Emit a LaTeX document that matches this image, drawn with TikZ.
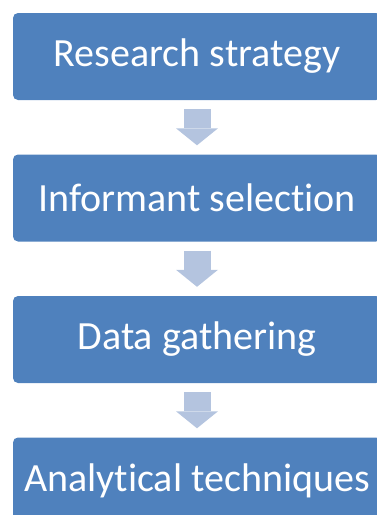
\documentclass[tikz,border=0pt]{standalone}
\usepackage{fontspec}
\setmainfont{Carlito}[Ligatures=NoCommon]
\usetikzlibrary{arrows.meta}
\definecolor{boxblue}{RGB}{79,129,189}
\definecolor{arrowblue}{RGB}{180,196,223}
\begin{document}
\begin{tikzpicture}[x=1pt,y=1pt,
  stage/.style={fill=boxblue,rounded corners=5pt,minimum width=368pt,minimum height=87pt,
    text=white,inner sep=0pt,font=\fontsize{40}{48}\selectfont},
  flow/.style={arrowblue,line width=27pt,shorten <=9pt,shorten >=9pt,
    -{Triangle[width=42pt,length=17pt,line width=0pt]}}]
\useasboundingbox (0,0) rectangle (377,-515);

\node (rs) at (197,-56.5)  [stage]{Research strategy};
\node (is) at (197,-198)   [stage]{Informant selection};
\node (dg) at (197,-339.5) [stage]{Data gathering};
\node (at) at (197,-481)   [stage]{Analytical techniques};

\draw[flow] (rs.south) -- (is.north);
\draw[flow] (is.south) -- (dg.north);
\draw[flow] (dg.south) -- (at.north);

\end{tikzpicture}
\end{document}
